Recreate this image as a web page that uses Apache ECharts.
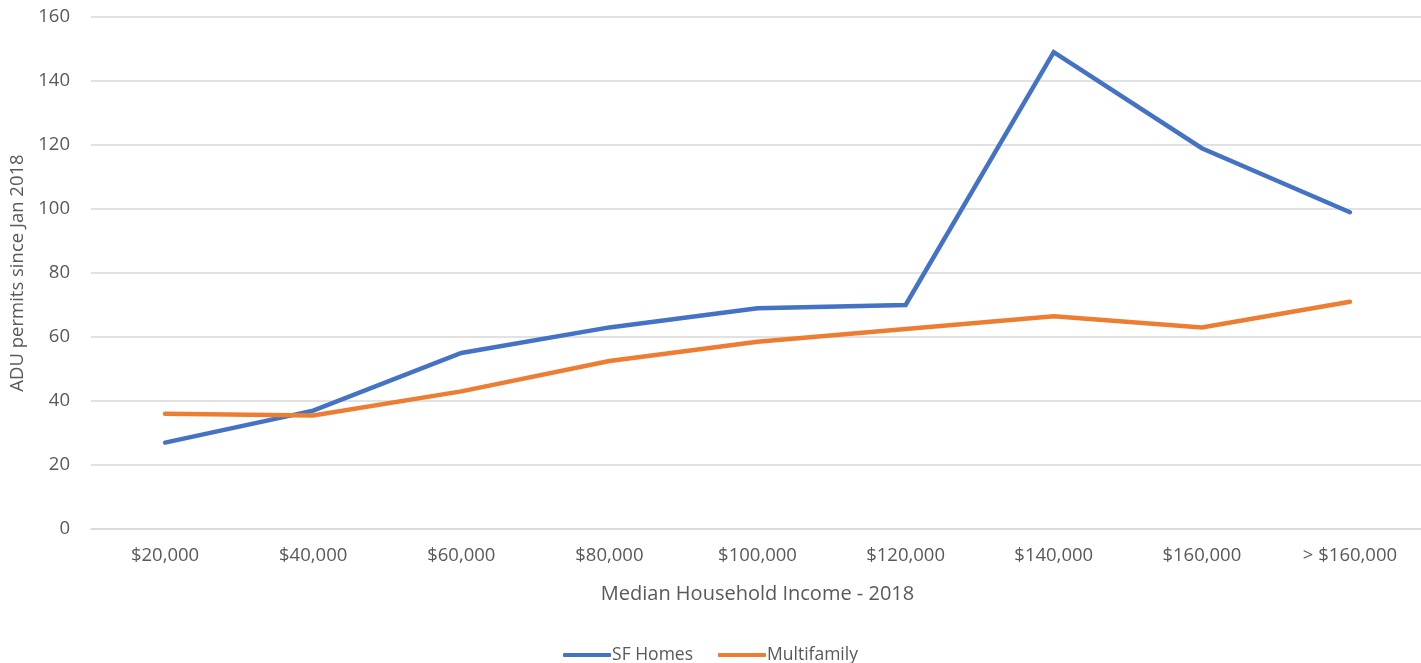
<!DOCTYPE html>
<html>
<head>
<meta charset="utf-8">
<script src="https://cdn.jsdelivr.net/npm/echarts@6/dist/echarts.min.js"></script>
<style>
  html, body { margin: 0; padding: 0; background: #ffffff; }
  #chart { width: 1421px; height: 663px; }
</style>
</head>
<body>
<div id="chart"></div>
<script>
// Income brackets along the horizontal axis
const incomeBrackets = ['$20,000', '$40,000', '$60,000', '$80,000', '$100,000', '$120,000', '$140,000', '$160,000', '> $160,000'];

// ADU permits since January 2018, by property type
const sfHomes = [27, 37, 55, 63, 69, 70, 149, 119, 99];
const multifamily = [36, 35.5, 43, 52.5, 58.5, 62.5, 66.5, 63, 71];

const seriesNames = ['SF Homes', 'Multifamily'];
const yTicks = { min: 0, max: 160, interval: 20 };

const textColor = '#595959';
const fontFamily = 'Open Sans, Lato, sans-serif';

const chart = echarts.init(document.getElementById('chart'), null, { renderer: 'canvas' });

chart.setOption({
  animation: false,
  backgroundColor: '#ffffff',
  color: ['#4472C4', '#ED7D31'],
  textStyle: { fontFamily: fontFamily, color: textColor },
  grid: { left: 91, right: -3, top: 17, bottom: 134, containLabel: false, outerBoundsMode: 'none' },
  legend: {
    data: seriesNames,
    top: 641,
    left: 'center',
    itemWidth: 48,
    itemHeight: 4,
    itemGap: 25,
    icon: 'roundRect',
    textStyle: { fontSize: 17.5, color: textColor, fontFamily: fontFamily, padding: [0, 0, 0, -4] }
  },
  xAxis: {
    type: 'category',
    data: incomeBrackets,
    boundaryGap: true,
    name: 'Median Household Income - 2018',
    nameLocation: 'middle',
    nameGap: 55,
    nameTextStyle: { fontSize: 20, color: textColor, fontFamily: fontFamily },
    axisLine: { show: true, lineStyle: { color: '#d9d9d9', width: 1.5 } },
    axisTick: { show: false },
    axisLabel: { fontSize: 18.5, color: textColor, margin: 17, interval: 0 }
  },
  yAxis: {
    type: 'value',
    min: yTicks.min,
    max: yTicks.max,
    interval: yTicks.interval,
    name: 'ADU permits since Jan 2018',
    nameLocation: 'middle',
    nameGap: 57,
    nameRotate: 90,
    nameTextStyle: { fontSize: 18.5, color: textColor, fontFamily: fontFamily },
    axisLine: { show: false },
    axisTick: { show: false },
    axisLabel: { fontSize: 18.5, color: textColor, margin: 21 },
    splitLine: { show: true, lineStyle: { color: '#d9d9d9', width: 1.5 } }
  },
  series: [
    {
      name: seriesNames[0],
      type: 'line',
      data: sfHomes,
      symbol: 'none',
      lineStyle: { width: 4.5, cap: 'round', join: 'miter' }
    },
    {
      name: seriesNames[1],
      type: 'line',
      data: multifamily,
      symbol: 'none',
      lineStyle: { width: 4.5, cap: 'round', join: 'miter' }
    }
  ]
});
</script>
</body>
</html>
